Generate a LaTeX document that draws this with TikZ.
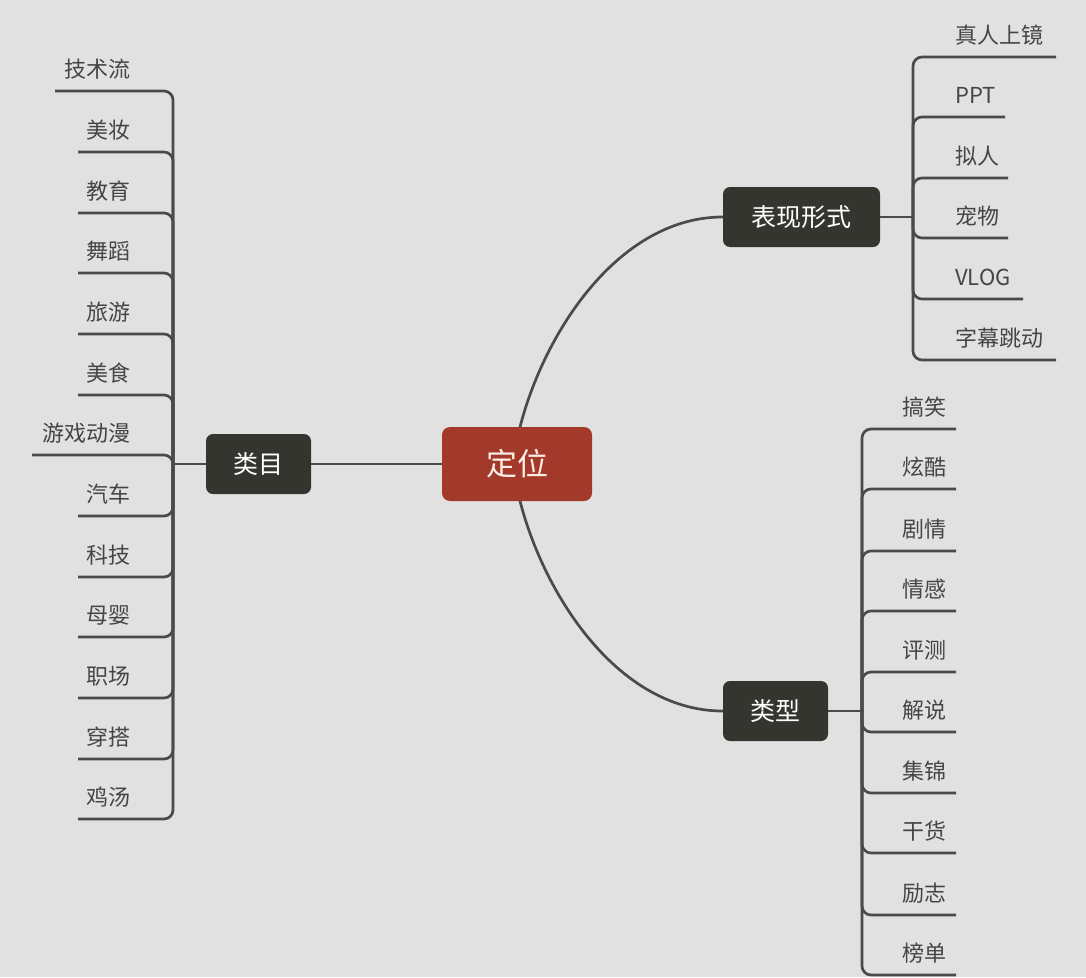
\documentclass[tikz,border=0pt]{standalone}
\usepackage{fontspec}
\setmainfont{Noto Sans CJK SC}
\definecolor{bgc}{HTML}{E1E1E1}
\definecolor{linec}{HTML}{4A4A4A}
\definecolor{leafc}{HTML}{454545}
\definecolor{darkn}{HTML}{34352F}
\definecolor{redn}{HTML}{A3392A}
\definecolor{redt}{HTML}{FBEDE6}
\begin{document}
\begin{tikzpicture}[x=1pt,y=-1pt,
  conn/.style={draw=linec, line width=2.7pt, rounded corners=9pt},
  curvec/.style={draw=linec, line width=2.7pt},
  topic/.style={fill=darkn, text=white, rounded corners=7pt, font=\fontsize{25}{25}\selectfont, minimum height=60pt, inner sep=0pt},
  leaf/.style={text=leafc, font=\fontsize{22}{22}\selectfont, inner sep=0pt}]
\fill[bgc] (0,0) rectangle (1086,977);
\useasboundingbox (0,0) rectangle (1086,977);

\node[fill=redn, text=redt, rounded corners=8pt, minimum width=150pt, minimum height=74pt, inner sep=0pt, font=\fontsize{31}{31}\selectfont] (dw) at (517,464) {定位};
\node[topic, minimum width=105pt] (lm) at (258.5,464) {类目};
\node[topic, minimum width=157pt] (bx) at (801.5,217) {表现形式};
\node[topic, minimum width=105pt] (lx) at (775.5,711) {类型};

\coordinate (lh) at (173,464);
\coordinate (bh) at (913,217);
\coordinate (xh) at (862,711);
\coordinate (dwt) at (520,427);
\coordinate (dwb) at (520,501);

\draw[conn] (lm) -- (dw);
\draw[conn] (lh) -- (lm.west);
\draw[conn] (bx.east) -- (bh);
\draw[conn] (lx.east) -- (xh);
\draw[curvec] (dwt) .. controls (545,330) and (620,217) .. (bx.west);
\draw[curvec] (dwb) .. controls (545,598) and (620,711) .. (lx.west);

\foreach \t/\y/\xs [count=\i] in {技术流/91/55, 美妆/152/78, 教育/213/78, 舞蹈/273/78, 旅游/334/78, 美食/395/78, 游戏动漫/455/32, 汽车/516/78, 科技/577/78, 母婴/637/78, 职场/698/78, 穿搭/759/78, 鸡汤/819/78} {
  \node[leaf, anchor=base east] (L\i) at (131,\y-14) {\t};
  \coordinate (Lu\i) at (\xs,\y);
  \draw[conn] (Lu\i) -| (lh);
}

\foreach \t/\y/\xe [count=\i] in {真人上镜/57/1056, PPT/117/1005, 拟人/178/1008, 宠物/238/1008, VLOG/299/1023, 字幕跳动/360/1056} {
  \node[leaf, anchor=base west] (B\i) at (955,\y-14) {\t};
  \coordinate (Be\i) at (\xe,\y);
  \draw[conn] (bh) |- (Be\i);
}

\foreach \t/\y [count=\i] in {搞笑/429, 炫酷/489, 剧情/551, 情感/611, 评测/672, 解说/732, 集锦/793, 干货/853, 励志/915, 榜单/975} {
  \node[leaf, anchor=base east] (X\i) at (947,\y-14) {\t};
  \coordinate (Xe\i) at (956,\y);
  \draw[conn] (xh) |- (Xe\i);
}
\end{tikzpicture}
\end{document}
